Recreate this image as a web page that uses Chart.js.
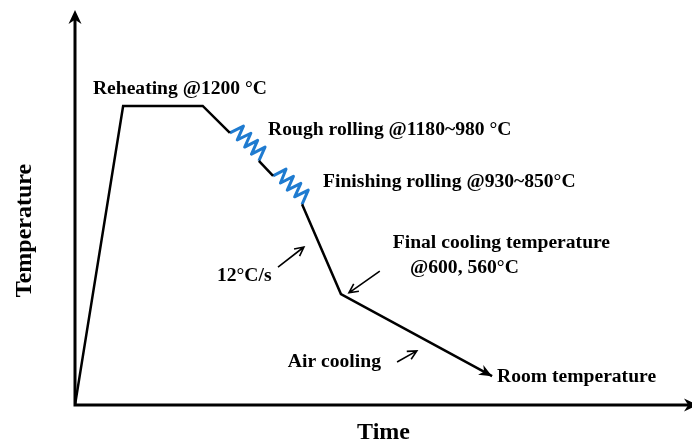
<!DOCTYPE html>
<html>
<head>
<meta charset="utf-8">
<script src="https://cdn.jsdelivr.net/npm/chart.js@4/dist/chart.umd.min.js"></script>
<style>
  html, body { margin: 0; padding: 0; background: #fff; }
  #wrap { width: 692px; height: 442px; position: relative; }
</style>
</head>
<body>
<div id="wrap"><canvas id="chart"></canvas></div>
<script>
// schematic process route, arbitrary units (time 0-100, temperature 0-100)
const heatingPath = [{x: 0, y: 0}, {x: 7.8, y: 75.7}, {x: 20.7, y: 75.7}, {x: 25.1, y: 68.9}];
const betweenPasses = [{x: 29.8, y: 61.8}, {x: 32.1, y: 58.0}];
const coolingPath = [{x: 36.8, y: 50.8}, {x: 43.1, y: 28.1}, {x: 67.6, y: 7.3}];

const roughRolling = [
    {x: 25.1, y: 68.9}, {x: 27.3, y: 70.6}, {x: 26.3, y: 67.1}, {x: 28.5, y: 68.8}, {x: 27.5, y: 65.3},
    {x: 29.6, y: 67.0}, {x: 28.6, y: 63.5}, {x: 30.8, y: 65.3}, {x: 29.8, y: 61.8}
];
const finishRolling = [
    {x: 32.1, y: 58.0}, {x: 34.2, y: 59.7}, {x: 33.3, y: 56.2}, {x: 35.4, y: 57.9}, {x: 34.4, y: 54.4},
    {x: 36.6, y: 56.1}, {x: 35.6, y: 52.7}, {x: 37.8, y: 54.4}, {x: 36.8, y: 50.8}
];

// annotation texts: [text, x, y] (left edge, middle)
const notes = [
    ["Reheating @1200 \u00B0C", 2.9, 80.0],
    ["Rough rolling @1180~980 \u00B0C", 31.3, 69.6],
    ["Finishing rolling @930~850\u00B0C", 40.2, 56.5],
    ["12\u00B0C/s", 23.0, 32.7],
    ["Final cooling temperature", 51.5, 41.0],
    ["@600, 560\u00B0C", 54.3, 34.7],
    ["Air cooling", 34.5, 10.9],
    ["Room temperature", 68.4, 7.1]
];
// pointer arrows: [x1, y1, x2, y2] (tail -> head)
const pointers = [
    [32.9, 34.9, 37.1, 40.0],
    [49.4, 33.9, 44.4, 28.4],
    [52.2, 10.9, 55.4, 13.7]
];
const xTitle = "Time";
const yTitle = "Temperature";

const black = "#000000";
const blue = "#1f7bd0";

function arrowHead(ctx, x1, y1, x2, y2, len, half) {
    const a = Math.atan2(y2 - y1, x2 - x1);
    ctx.beginPath();
    ctx.moveTo(x2, y2);
    ctx.lineTo(x2 - len * Math.cos(a) + half * Math.sin(a), y2 - len * Math.sin(a) - half * Math.cos(a));
    ctx.lineTo(x2 - len * 0.7 * Math.cos(a), y2 - len * 0.7 * Math.sin(a));
    ctx.lineTo(x2 - len * Math.cos(a) - half * Math.sin(a), y2 - len * Math.sin(a) + half * Math.cos(a));
    ctx.closePath();
    ctx.fill();
}

const decor = {
    id: "decor",
    afterDatasetsDraw(chart) {
        const ctx = chart.ctx;
        const area = chart.chartArea;
        const xs = chart.scales.x, ys = chart.scales.y;
        ctx.save();
        ctx.strokeStyle = black;
        ctx.fillStyle = black;

        // axes with arrows
        ctx.lineWidth = 3;
        ctx.beginPath();
        ctx.moveTo(area.left, area.top + 6);
        ctx.lineTo(area.left, area.bottom);
        ctx.lineTo(area.right - 4, area.bottom);
        ctx.stroke();
        arrowHead(ctx, area.left, area.bottom, area.left, area.top, 14, 6.5);
        arrowHead(ctx, area.left, area.bottom, area.right + 6, area.bottom, 14, 6.5);

        // end arrow of the cooling line
        const n = coolingPath.length;
        const p1 = coolingPath[n - 2], p2 = coolingPath[n - 1];
        arrowHead(ctx, xs.getPixelForValue(p1.x), ys.getPixelForValue(p1.y),
            xs.getPixelForValue(p2.x), ys.getPixelForValue(p2.y), 13, 5.5);

        // pointer arrows
        ctx.lineWidth = 1.6;
        pointers.forEach(p => {
            const ax = xs.getPixelForValue(p[0]), ay = ys.getPixelForValue(p[1]);
            const bx = xs.getPixelForValue(p[2]), by = ys.getPixelForValue(p[3]);
            const a = Math.atan2(by - ay, bx - ax);
            ctx.beginPath();
            ctx.moveTo(ax, ay);
            ctx.lineTo(bx, by);
            ctx.moveTo(bx - 9 * Math.cos(a) + 4.5 * Math.sin(a), by - 9 * Math.sin(a) - 4.5 * Math.cos(a));
            ctx.lineTo(bx, by);
            ctx.lineTo(bx - 9 * Math.cos(a) - 4.5 * Math.sin(a), by - 9 * Math.sin(a) + 4.5 * Math.cos(a));
            ctx.stroke();
        });

        // annotation texts
        ctx.font = 'bold 19.6px "Liberation Serif", "Times New Roman", serif';
        ctx.textAlign = "left";
        ctx.textBaseline = "middle";
        notes.forEach(t => {
            ctx.fillText(t[0], xs.getPixelForValue(t[1]), ys.getPixelForValue(t[2]));
        });

        // axis titles
        ctx.font = 'bold 24px "Liberation Serif", "Times New Roman", serif';
        ctx.textAlign = "center";
        ctx.fillText(xTitle, (area.left + area.right) / 2, area.bottom + 28);
        ctx.translate(25, (area.top + area.bottom) / 2 + 23);
        ctx.rotate(-Math.PI / 2);
        ctx.fillText(yTitle, 0, 0);
        ctx.restore();
    }
};

const lineStyle = {showLine: true, pointRadius: 0, borderWidth: 2.5, fill: false, tension: 0, borderJoinStyle: "miter"};
const zigStyle = Object.assign({}, lineStyle, {borderWidth: 3, borderJoinStyle: "round"});

new Chart(document.getElementById("chart"), {
    type: "scatter",
    data: {
        datasets: [
            Object.assign({data: heatingPath, borderColor: black}, lineStyle),
            Object.assign({data: betweenPasses, borderColor: black}, lineStyle),
            Object.assign({data: coolingPath, borderColor: black}, lineStyle),
            Object.assign({data: roughRolling, borderColor: blue}, zigStyle),
            Object.assign({data: finishRolling, borderColor: blue}, zigStyle)
        ]
    },
    options: {
        responsive: true,
        maintainAspectRatio: false,
        animation: false,
        layout: {padding: {left: 75, right: 0, top: 10, bottom: 37}},
        plugins: {legend: {display: false}, tooltip: {enabled: false}},
        scales: {
            x: {type: "linear", min: 0, max: 100, display: false},
            y: {type: "linear", min: 0, max: 100, display: false}
        }
    },
    plugins: [decor]
});
</script>
</body>
</html>
